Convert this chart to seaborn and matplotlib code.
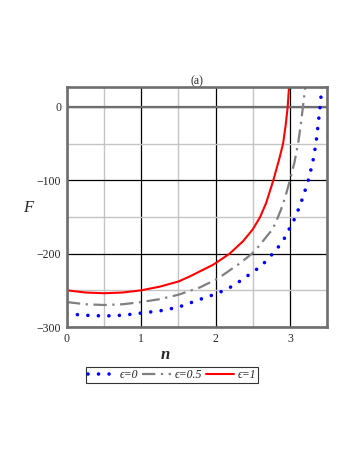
import numpy as np
import pandas as pd
import seaborn as sns
import matplotlib.pyplot as plt
from matplotlib.ticker import MultipleLocator

sns.set_style("white")
plt.rcParams['font.family'] = ['Liberation Serif', 'DejaVu Serif']
plt.rcParams['axes.unicode_minus'] = True

# === values (n, F) ===
n_eps1 = [0, 0.25, 0.5, 0.75, 1.0, 1.25, 1.5, 1.655, 1.97, 2.19, 2.37, 2.5,
          2.6, 2.68, 2.777, 2.818, 2.854, 2.908, 2.944, 2.97, 2.99]
F_eps1 = [-250, -253, -254, -253, -250, -245, -238, -231, -215, -200, -183, -167,
          -150, -131, -100, -85, -72, -50, -24, 0, 30]

n_eps05 = [0, 0.25, 0.5, 0.75, 1.0, 1.25, 1.5, 1.79, 2.03, 2.33, 2.49, 2.58,
           2.74, 2.80, 2.88, 2.94, 3.0, 3.06, 3.11, 3.145, 3.175, 3.21]
F_eps05 = [-266, -269, -270, -269, -266, -262, -256, -246, -234, -213, -200, -190,
           -170, -160, -140, -122, -100, -76, -50, -25, 0, 30]

n_eps0 = [0, 0.25, 0.5, 0.75, 1.0, 1.25, 1.5, 1.80, 2.03, 2.235, 2.42, 2.51,
          2.605, 2.687, 2.76, 2.83, 2.90, 2.96, 3.0, 3.066, 3.148, 3.22, 3.247,
          3.306, 3.35, 3.374, 3.406, 3.43]
F_eps0 = [-282, -284, -285, -284, -281, -278, -273, -262, -254, -244, -231, -224,
          -218, -209, -201, -193, -183, -174, -164, -152, -131, -109, -100,
          -76, -50, -29, 0, 28]

labels = ['ϵ=0', 'ϵ=0.5', 'ϵ=1']

fig = plt.figure(figsize=(3.54, 4.58), dpi=100)
ax = fig.add_axes([0.189, 0.286, 0.735, 0.524])

# grid first so curves sit on top
ax.xaxis.set_major_locator(MultipleLocator(1))
ax.xaxis.set_minor_locator(MultipleLocator(0.5))
ax.yaxis.set_major_locator(MultipleLocator(100))
ax.yaxis.set_minor_locator(MultipleLocator(50))
ax.grid(which='minor', color='#c4c4c4', lw=1.0)
ax.grid(which='major', color='black', lw=0.9)
ax.set_axisbelow(True)
ax.axhline(0, color='#6e6e6e', lw=1.6, zorder=1.5)

sns.lineplot(x=n_eps0, y=F_eps0, ax=ax, color='blue', lw=2.6, label=labels[0])
ax.lines[-1].set_dashes([0.01, 2.9])
ax.lines[-1].set_dash_capstyle('round')
sns.lineplot(x=n_eps05, y=F_eps05, ax=ax, color='gray', lw=1.6, label=labels[1])
ax.lines[-1].set_dashes([6, 2.5, 1, 2.5])
sns.lineplot(x=n_eps1, y=F_eps1, ax=ax, color='red', lw=1.5, label=labels[2])

ax.set_xlim(0, 3.5)
ax.set_ylim(-300, 27)
ax.set_xticks([0, 1, 2, 3])
ax.set_yticks([0, -100, -200, -300])
ax.tick_params(which='both', length=0, labelsize=8.5, pad=4)

for sp in ax.spines.values():
    sp.set_color('#6e6e6e')
    sp.set_linewidth(1.9)

ax.set_title('(a)', fontsize=8.5, pad=2)
ax.set_xlabel('')
ax.set_ylabel('')
fig.text(0.466, 0.225, 'n', fontsize=12, style='italic', weight='bold',
         ha='center', va='center')
fig.text(0.079, 0.546, 'F', fontsize=12, style='italic', ha='center', va='center')

handles, labs = ax.get_legend_handles_labels()
ax.get_legend().remove()
leg = fig.legend(handles, labs, loc='center', bbox_to_anchor=(0.486, 0.181), ncol=3,
                 fontsize=8.5, frameon=True, fancybox=False, edgecolor='black',
                 handlelength=2.4, handletextpad=0.3, columnspacing=0.35,
                 borderpad=0.15, borderaxespad=0)
leg.get_frame().set_linewidth(0.8)
for t in leg.get_texts():
    t.set_style('italic')

fig.savefig('out.png', dpi=100)
